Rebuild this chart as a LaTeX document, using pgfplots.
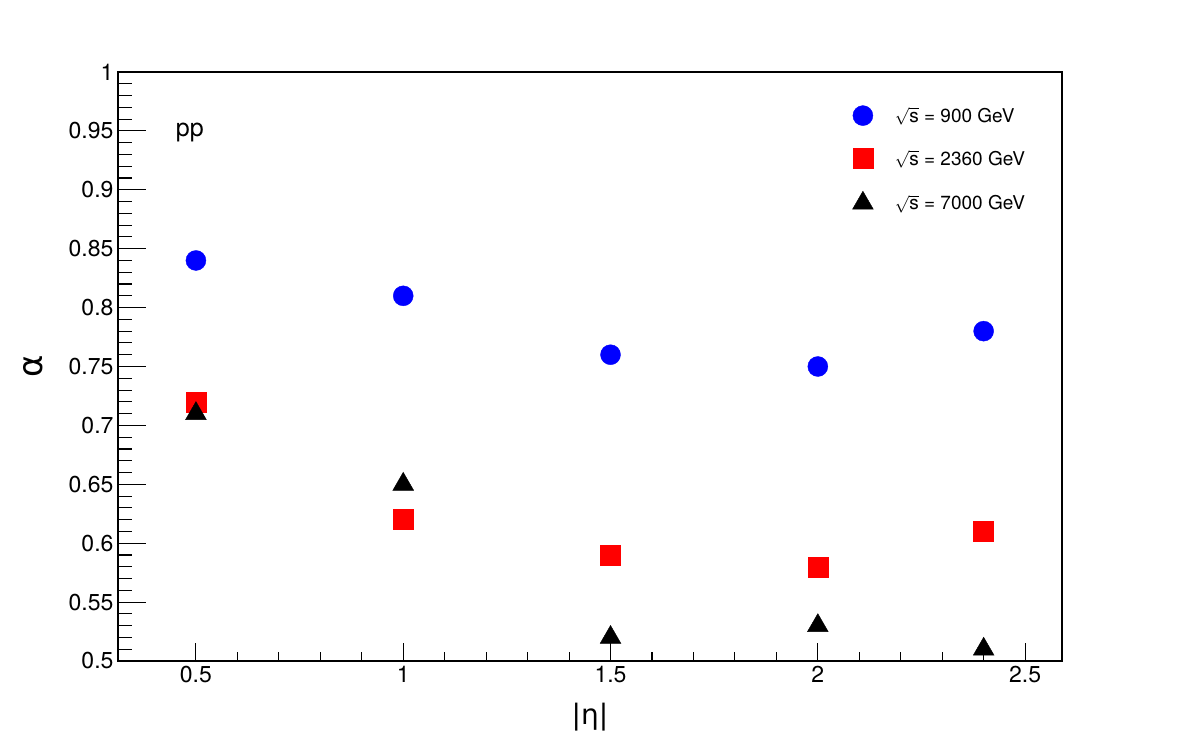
\documentclass[border=0pt]{standalone}
\usepackage{pgfplots}
\pgfplotsset{compat=1.18}
\usepackage{fontspec}
\setmainfont{TeX Gyre Heros}
\newfontfamily\dejavu{DejaVu Sans}
\definecolor{rblue}{RGB}{0,0,255}
\definecolor{rred}{RGB}{255,0,0}
\newcommand\tlfont{\fontsize{23}{27}\selectfont}
\pgfplotsset{
  rootgeom/.style={
    at={(118pt,75pt)}, anchor=south west,
    scale only axis, width=944pt, height=589pt,
    xmin=0.312, xmax=2.589, ymin=0.5, ymax=1,
    tick pos=left, tick align=inside,
    every tick/.style={line width=1.1pt, black},
    /pgf/number format/assume math mode=true,
    /pgf/number format/fixed,
    xticklabel={\tlfont\pgfmathprintnumber{\tick}},
    yticklabel={\tlfont\pgfmathprintnumber{\tick}},
  }
}
\begin{document}
\begin{tikzpicture}[x=1pt,y=1pt]
\useasboundingbox (0,0) rectangle (1182,736);
% y ticks axis
\begin{axis}[
  rootgeom,
  xtick=\empty,
  ytick={0.5,0.55,...,1.001}, minor y tick num=4,
  major tick length=28pt, minor tick length=14pt,
  axis line style={draw=none},
  yticklabel style={xshift=-1pt},
  ylabel={{\dejavu α}},
  ylabel style={font=\fontsize{34}{38}\selectfont, at={(axis description cs:-0.09,0.5)}, anchor=center},
]
\addplot[draw=none, forget plot] coordinates {(0.5,0.5)};
\end{axis}
\begin{axis}[
  rootgeom,
  xtick={0.5,1,1.5,2,2.5}, minor x tick num=4,
  ytick=\empty,
  major tick length=18pt, minor tick length=9pt,
  axis line style={line width=1.1pt},
  xticklabel style={yshift=-2pt},
  xlabel={{\dejavu |η|}},
  xlabel style={font=\fontsize{28}{32}\selectfont, at={(axis description cs:0.5,-0.095)}, anchor=center},
  legend style={draw=none, fill=none, at={(0.773,0.947)}, anchor=north west,
    font=\fontsize{19}{22}\selectfont, row sep=22.5pt, nodes={inner sep=2pt}},
  legend cell align=left,
  legend image code/.code={\path[draw=none,fill=none] (0pt,0pt) rectangle (42pt,0pt); \draw[#1] plot coordinates {(12pt,0pt)};},
  clip=false,
]
\addplot[only marks, mark=*, mark size=10pt, color=rblue] coordinates {
(0.5,0.84) (1,0.81) (1.5,0.76) (2,0.75) (2.4,0.78)};
\addlegendentry{$\sqrt{\mbox{s}}$ = 900 GeV}
\addplot[only marks, mark=square*, mark size=10pt, color=rred] coordinates {
(0.5,0.72) (1,0.62) (1.5,0.59) (2,0.58) (2.4,0.61)};
\addlegendentry{$\sqrt{\mbox{s}}$ = 2360 GeV}
\addplot[only marks, mark=triangle*, mark size=12pt, color=black] coordinates {
(0.5,0.71) (1,0.65) (1.5,0.52) (2,0.53) (2.4,0.51)};
\addlegendentry{$\sqrt{\mbox{s}}$ = 7000 GeV}
\node[font=\fontsize{25}{29}\selectfont] at (rel axis cs:0.076,0.898) {pp};
\end{axis}
\end{tikzpicture}
\end{document}
